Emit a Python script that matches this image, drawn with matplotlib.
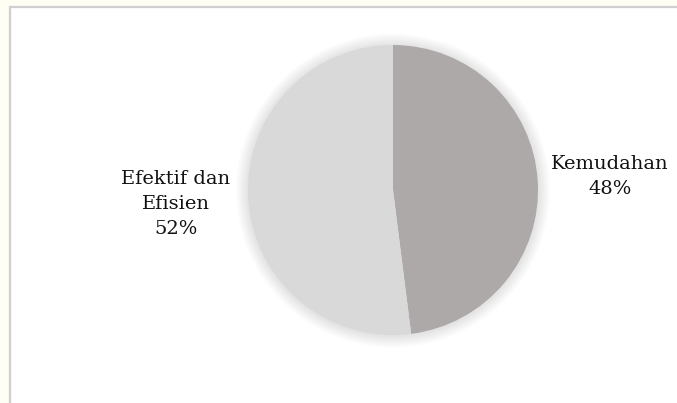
import matplotlib
matplotlib.use("Agg")
import matplotlib.pyplot as plt
from matplotlib.patches import Rectangle, Circle

categories = ["Kemudahan", "Efektif dan\nEfisien"]
values = [48, 52]
colors = ["#ADA9A8", "#D9D9D9"]

W, H = 677, 403
fig = plt.figure(figsize=(W / 100, H / 100), dpi=100)
fig.patch.set_facecolor("#FEFEF4")

# white panel with light gray border
panel = Rectangle((10 / W, -0.01), 1.0, (H - 7) / H + 0.01, transform=fig.transFigure,
                  facecolor="white", edgecolor="#CFCFCF", linewidth=1.6, zorder=-5)
fig.add_artist(panel)

cx, cy, r = 393, 190, 145
ax = fig.add_axes([(cx - r) / W, (H - cy - r) / H, 2 * r / W, 2 * r / H])
ax.set_zorder(1)
ax.patch.set_visible(False)

# soft shadow
for i in range(14):
    rad = 1.0 + 0.006 * (i + 1)
    ax.add_patch(Circle((0, -0.004), rad, facecolor="black", alpha=0.008, edgecolor="none",
                        zorder=0, clip_on=False))

labels = [f"{c}\n{v}%" for c, v in zip(categories, values)]
wedges, texts = ax.pie(values, colors=colors, startangle=90, counterclock=False,
                       labels=labels, labeldistance=1.5,
                       textprops=dict(fontsize=14, family="DejaVu Serif", color="#111111"),
                       wedgeprops=dict(linewidth=0, zorder=2))
for t in texts:
    t.set_ha("center")
    t.set_va("center")
    t.set_multialignment("center")
    t.set_linespacing(1.5)
ax.set_xlim(-1, 1)
ax.set_ylim(-1, 1)
ax.set_aspect("equal")
ax.axis("off")

fig.savefig("out.png", dpi=100, facecolor=fig.get_facecolor())
